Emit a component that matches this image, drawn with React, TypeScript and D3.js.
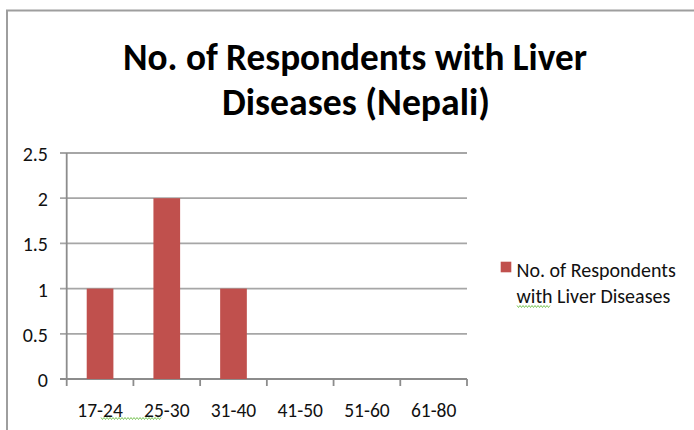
import React from "react";
import * as d3 from "d3";

const categories = ["17-24", "25-30", "31-40", "41-50", "51-60", "61-80"];
const respondents = [1, 2, 1, 0, 0, 0];
const yTicks = [0, 0.5, 1, 1.5, 2, 2.5];
const seriesName = "No. of Respondents with Liver Diseases";
const titleLines = ["No. of Respondents with Liver", "Diseases (Nepali)"];
const legendLines = ["No. of Respondents", "with Liver Diseases"];

const W = 694;
const H = 430;
const plot = { left: 66.7, right: 467, top: 153, bottom: 379 };
const font = "Carlito, 'Liberation Sans', Arial, sans-serif";
const barColor = "#c0504d";
const gridColor = "#a6a6a6";
const axisColor = "#8c8c8c";
const labelColor = "#111";

// wavy underline path (spell-check style squiggle)
function squiggle(x0: number, x1: number, y: number): string {
  const pts: [number, number][] = [];
  for (let x = x0, i = 0; x <= x1; x += 1.5, i++) {
    pts.push([x, y + (i % 2 === 0 ? -1 : 1)]);
  }
  return d3.line()(pts) || "";
}

export default function App() {
  const x = d3
    .scaleBand<string>()
    .domain(categories)
    .range([plot.left, plot.right])
    .padding(0);
  const y = d3.scaleLinear().domain([0, 2.5]).range([plot.bottom, plot.top]);
  const bw = x.bandwidth();
  const barW = bw * 0.4;

  return (
    <svg
      width={W}
      height={H}
      style={{ position: "absolute", left: 0, top: 0, background: "#fff" }}
    >
      {/* chart frame */}
      <path d={`M7,${H} V10.5 H${W}`} fill="none" stroke="#9e9e9e" strokeWidth={2} />

      {/* title */}
      <g fontFamily={font} fontWeight="bold" fill="#000" textAnchor="middle">
        <text x={355} y={70} fontSize={38} textLength={464} lengthAdjust="spacingAndGlyphs">
          {titleLines[0]}
        </text>
        <text x={356} y={115} fontSize={38} textLength={268} lengthAdjust="spacingAndGlyphs">
          {titleLines[1]}
        </text>
      </g>

      {/* gridlines and y ticks */}
      {yTicks.map((t) => (
        <g key={t}>
          <line
            x1={60}
            x2={plot.right}
            y1={y(t)}
            y2={y(t)}
            stroke={t === 0 ? axisColor : gridColor}
            strokeWidth={1.8}
          />
          <text
            x={48}
            y={y(t) + 8}
            textAnchor="end"
            fontFamily={font}
            fontSize={20}
            fill={labelColor}
          >
            {t}
          </text>
        </g>
      ))}

      {/* y axis */}
      <line x1={plot.left} x2={plot.left} y1={plot.top} y2={plot.bottom} stroke={axisColor} strokeWidth={1.8} />

      {/* x ticks */}
      {categories.map((c) => (
        <line
          key={"t" + c}
          x1={x(c)!}
          x2={x(c)!}
          y1={plot.bottom}
          y2={plot.bottom + 7}
          stroke={axisColor}
          strokeWidth={1.8}
        />
      ))}
      <line x1={plot.right} x2={plot.right} y1={plot.bottom} y2={plot.bottom + 7} stroke={axisColor} strokeWidth={1.8} />

      {/* bars */}
      {categories.map((c, i) => (
        <rect
          key={"b" + c}
          x={x(c)! + (bw - barW) / 2}
          y={y(respondents[i])}
          width={barW}
          height={y(0) - y(respondents[i])}
          fill={barColor}
        >
          <title>{`${seriesName}: ${respondents[i]}`}</title>
        </rect>
      ))}

      {/* x labels */}
      {categories.map((c) => (
        <text
          key={"l" + c}
          x={x(c)! + bw / 2}
          y={417}
          textAnchor="middle"
          fontFamily={font}
          fontSize={19.5}
          fill={labelColor}
        >
          {c}
        </text>
      ))}
      <path d={squiggle(101, 161, 418.5)} fill="none" stroke="#6fbf4a" strokeWidth={0.9} />

      {/* legend */}
      <rect x={500.7} y={261.7} width={10.6} height={10.6} fill={barColor} />
      <g fontFamily={font} fontSize={20} fill={labelColor}>
        <text x={516.5} y={277}>{legendLines[0]}</text>
        <text x={516.5} y={302.5}>{legendLines[1]}</text>
      </g>
      <path d={squiggle(517, 551, 306.5)} fill="none" stroke="#6fbf4a" strokeWidth={0.9} />
    </svg>
  );
}
